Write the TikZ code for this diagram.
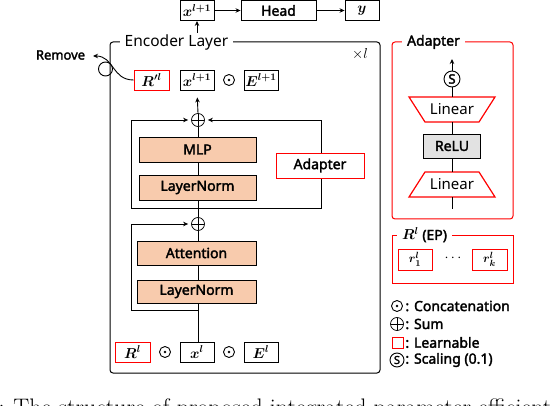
\documentclass[tikz,border=0pt]{standalone}
\usepackage{fontspec}
\setsansfont{Noto Sans}[BoldFont={Noto Sans}, BoldFeatures={FakeBold=2.2}]
\usetikzlibrary{arrows.meta,calc}
\newcommand\myfs[1]{\fontsize{#1}{#1}\selectfont}
\definecolor{peach}{HTML}{F8CBAD}
\definecolor{lgray}{HTML}{E2E2E2}
\begin{document}
\begin{tikzpicture}[x=1pt,y=-1pt,
  line width=0.9pt,
  >={Stealth[length=5pt,width=4.5pt]},
  bx/.style={draw, line width=0.9pt, inner sep=0pt, minimum width=34pt, minimum height=20pt, font=\myfs{14}\boldmath},
  rbx/.style={bx, draw=red},
  lbl/.style={font=\sffamily\bfseries\myfs{14}},
  blk/.style={draw, fill=peach, minimum width=117pt, minimum height=25pt, inner sep=0pt, lbl},
  odot/.style={circle, draw, line width=0.9pt, minimum size=11pt, inner sep=0pt, path picture={\fill (path picture bounding box.center) circle (1.4pt);}},
  oplus/.style={circle, draw, line width=0.7pt, minimum size=13pt, inner sep=0pt, path picture={\draw[line width=0.7pt] (path picture bounding box.north) -- (path picture bounding box.south) (path picture bounding box.west) -- (path picture bounding box.east);}},
  sc/.style={circle, draw, line width=0.9pt, minimum size=16pt, inner sep=0pt, font=\sffamily\bfseries\myfs{13}},
  frame/.style={line width=1pt, rounded corners=3pt},
  ttl/.style={fill=white, inner xsep=5pt, inner ysep=1pt},
]
\useasboundingbox (0,0) rectangle (554,406);
\clip (0,0) rectangle (554,406);

% ---------- top row ----------
\node[bx] (xtop) at (197,10.5) {$x^{l+1}$};
\node[bx, minimum width=75pt, lbl] (head) at (278.5,10.5) {Head};
\node[bx] (ybox) at (362,10.5) {$y$};
\draw[->] (xtop.east) -- (head.west);
\draw[->] (head.east) -- (ybox.west);
\coordinate (encout) at (197,33);
\draw[->] (encout) -- (xtop.south);

% ---------- encoder frame ----------
\draw[frame] (110,42) rectangle (380,373);
\node[ttl, font=\sffamily\myfs{15.5}] (enctitle) at (176.5,42) {Encoder Layer};
\node[font=\myfs{14}] (times) at (360,54) {$\times l$};

% row of outputs
\node[rbx, minimum width=35pt] (rp) at (151.5,80) {$R^{\prime l}$};
\node[bx] (x1) at (197,80) {$x^{l+1}$};
\node[odot] (c1) at (229,80) {};
\node[bx] (e1) at (261,80) {$E^{l+1}$};

% remove
\node[font=\sffamily\bfseries\myfs{13}] (remove) at (60.5,55) {Remove};
\coordinate (remtip) at (93,56);
\draw (105.5,69) circle (7);
\draw[->] (rp.west) .. controls (112,80) and (114,56) .. (remtip);

% upper block
\node[oplus] (p1) at (198,120) {};
\node[blk] (mlp) at (197.5,149.5) {MLP};
\node[blk] (ln1) at (197.5,187.5) {LayerNorm};
\coordinate (j1) at (198,208);
\draw[->, shorten >=7pt] (p1.north) -- (x1.south);
\draw (mlp.north -| p1) -- (p1.south);
\draw (ln1.north -| p1) -- (mlp.south -| p1);
\draw (j1) -- (ln1.south -| p1);
\draw[->, shorten >=3pt] (j1) -| (131,120) -- (p1.west);
\draw[->, shorten >=3pt] (j1) -| (321,120) -- (p1.east);
\node[draw=red, line width=0.9pt, inner sep=0pt, minimum width=88pt, minimum height=25pt, fill=white, font=\sffamily\bfseries\myfs{14}] (adapter) at (320,165.5) {Adapter};

% lower block
\node[oplus] (p2) at (198,224) {};
\node[blk, minimum width=119pt, minimum height=24pt] (att) at (196.5,253) {Attention};
\node[blk, minimum width=119pt, minimum height=23pt] (ln2) at (196.5,291.5) {LayerNorm};
\coordinate (j2) at (198,310);
\draw (p2.north) -- (j1);
\draw (att.north -| p2) -- (p2.south);
\draw (ln2.north -| p2) -- (att.south -| p2);
\draw (j2) -- (ln2.south -| p2);
\draw[->, shorten >=3pt] (j2) -| (131,224) -- (p2.west);

% input row
\node[rbx, minimum width=35pt] (r0) at (132.5,352) {$R^{l}$};
\node[odot] (c2) at (165,352) {};
\node[bx] (x0) at (197,352) {$x^{l}$};
\node[odot] (c3) at (229,352) {};
\node[bx] (e0) at (261,352) {$E^{l}$};
\draw (x0.north -| j2) -- (j2);

% ---------- adapter panel ----------
\draw[frame, draw=red] (392,42) rectangle (513,219);
\node[ttl, lbl] (adtitle) at (433.5,42) {Adapter};
\node[sc] (s) at (452,79) {S};
\coordinate (sout) at (452,59);
\draw[->] (s.north) -- (sout);
\draw[red, fill=white, line width=1.2pt] (409,97) -- (495,97) -- (479,122) -- (425,122) -- cycle;
\node[minimum width=54pt, minimum height=25pt, inner sep=0pt, font=\sffamily\myfs{15}] (lin1) at (452,109.5) {Linear};
\node[draw, fill=lgray, minimum width=57pt, minimum height=24pt, inner sep=0pt, lbl] (relu) at (452,146) {ReLU};
\draw[red, fill=white, line width=1.2pt] (425,172) -- (479,172) -- (495,197) -- (409,197) -- cycle;
\node[minimum width=54pt, minimum height=25pt, inner sep=0pt, font=\sffamily\myfs{15}] (lin2) at (452,184.5) {Linear};
\coordinate (adin) at (452,209);
\draw (s.south) -- (lin1.north);
\draw (lin1.south) -- (relu.north);
\draw (relu.south) -- (lin2.north);
\draw (lin2.south) -- (adin);

% ---------- R^l (EP) panel ----------
\draw[line width=1pt, draw=red] (392,235) rectangle (513,283);
\node[ttl, font=\sffamily\bfseries\myfs{14}\boldmath] (eptitle) at (424.5,235) {$R^{l}$ (EP)};
\node[rbx, minimum height=21pt, font=\myfs{13}\boldmath] (r1) at (415,259.5) {$r^{l}_{1}$};
\node[font=\myfs{14}] (dots) at (453,258) {$\cdots$};
\node[rbx, minimum width=35pt, minimum height=21pt, font=\myfs{13}\boldmath] (rk) at (489.5,259.5) {$r^{l}_{k}$};

% ---------- legend ----------
\node[odot] (lg1) at (397,306) {};
\node[anchor=west, lbl, inner sep=0pt] (lt1) at (405,306) {: Concatenation};
\node[oplus] (lg2) at (397,324) {};
\node[anchor=west, lbl, inner sep=0pt] (lt2) at (405,324) {: Sum};
\node[draw=red, line width=0.9pt, minimum size=11pt, inner sep=0pt] (lg3) at (397.5,342.5) {};
\node[anchor=west, lbl, inner sep=0pt] (lt3) at (405,342.5) {: Learnable};
\node[sc, minimum size=14pt, font=\sffamily\bfseries\myfs{11}] (lg4) at (397,360) {S};
\node[anchor=west, lbl, inner sep=0pt] (lt4) at (405,360) {: Scaling (0.1)};

% ---------- caption (clipped) ----------
\node[anchor=base west, inner sep=0pt, font=\myfs{23.9}] (cap) at (13,415.3) {The structure of proposed integrated parameter-efficient};
\node[anchor=base east, inner sep=0pt, font=\myfs{23.9}] (capnum) at (5,415.3) {Figure 1:};
\end{tikzpicture}
\end{document}
